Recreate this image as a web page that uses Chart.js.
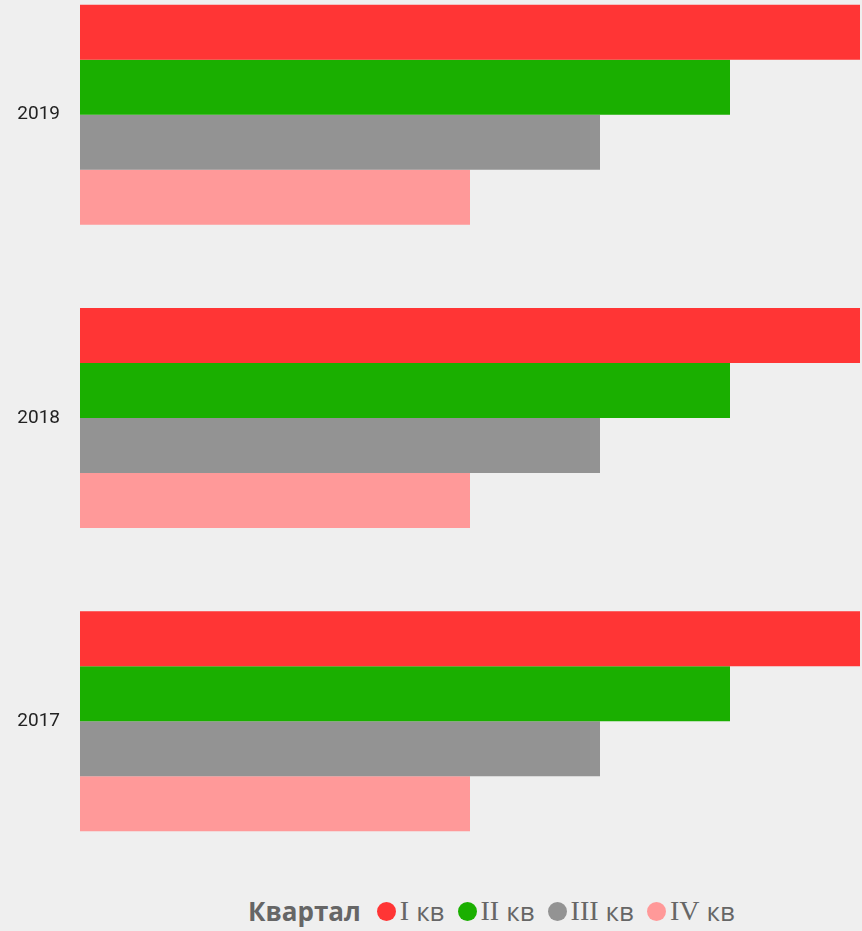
<!DOCTYPE html>
<html>
<head>
<meta charset="utf-8">
<script src="https://cdn.jsdelivr.net/npm/chart.js@4/dist/chart.umd.min.js"></script>
<style>
  html, body { margin: 0; padding: 0; background: #efefef; }
  body { width: 862px; height: 931px; position: relative; overflow: hidden; }
  #wrap { position: absolute; left: 0; top: -37px; width: 862px; height: 910px; }
  #legend { position: absolute; left: 248px; top: 893px; display: flex; align-items: center;
            font-family: "Open Sans", sans-serif; font-size: 26px; color: #666; white-space: nowrap; }
  #legend .title { font-weight: bold; margin-right: 16px; }
  #legend .dot { width: 19px; height: 19px; border-radius: 50%; display: inline-block; margin-right: 4px; }
  #legend .item { display: flex; align-items: center; margin-right: 13px; }
  #legend .num { font-family: "Liberation Serif", serif; font-size: 28px; margin-right: 7px; }
</style>
</head>
<body>
<div id="wrap"><canvas id="chart"></canvas></div>
<div id="legend"></div>
<script>
const years = ['2019', '2018', '2017'];
const quarters = ['I кв', 'II кв', 'III кв', 'IV кв'];
const q1 = [6, 6, 6];
const q2 = [5, 5, 5];
const q3 = [4, 4, 4];
const q4 = [3, 3, 3];
const colors = ['#ff3535', '#1aaf00', '#939393', '#ff9999'];

const series = [q1, q2, q3, q4];

const chart = new Chart(document.getElementById('chart'), {
    type: 'bar',
    data: {
        labels: years,
        datasets: series.map((d, i) => ({
            label: quarters[i],
            data: d,
            backgroundColor: colors[i],
            barPercentage: 1,
            categoryPercentage: 0.7253
        }))
    },
    options: {
        indexAxis: 'y',
        responsive: true,
        maintainAspectRatio: false,
        animation: false,
        layout: { padding: { left: 0, top: 0, bottom: 0, right: 2 } },
        plugins: {
            legend: { display: false },
            tooltip: { enabled: false }
        },
        scales: {
            x: { display: false, min: 0, max: 6 },
            y: {
                grid: { display: false },
                border: { display: false },
                ticks: {
                    color: '#222',
                    padding: 12,
                    font: { family: 'Roboto', size: 19 }
                },
                afterFit: s => {
                    s.width = 80;
                    s.paddingTop = 0;
                    s.paddingBottom = 0;
                }
            }
        }
    }
});

// legend with title on the same line
const leg = document.getElementById('legend');
const t = document.createElement('span');
t.className = 'title';
t.textContent = 'Квартал';
leg.appendChild(t);
chart.data.datasets.forEach(ds => {
    const it = document.createElement('span');
    it.className = 'item';
    const parts = ds.label.split(' ');
    it.innerHTML = '<span class="dot" style="background:' + ds.backgroundColor + '"></span>' +
        '<span class="num">' + parts[0] + '</span><span>' + parts[1] + '</span>';
    leg.appendChild(it);
});
</script>
</body>
</html>
